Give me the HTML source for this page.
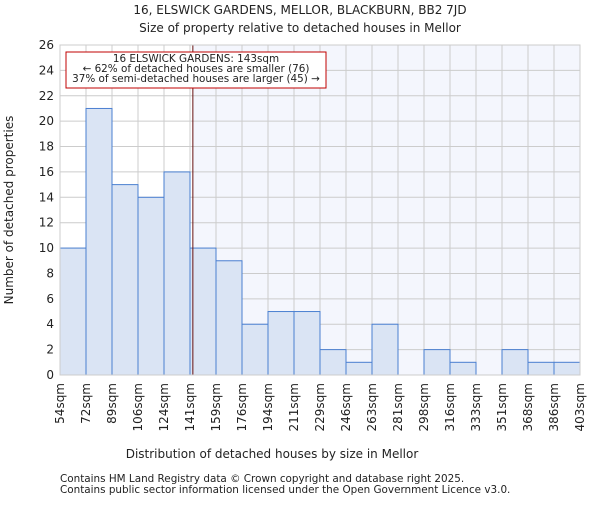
<!DOCTYPE html>
<html><head><meta charset="utf-8"><style>
body{margin:0;background:#fff}
svg text{font-family:"DejaVu Sans","Liberation Sans",sans-serif;fill:#222}
</style></head><body>
<svg width="600" height="500">
<text x="300" y="14" text-anchor="middle" font-size="12">16, ELSWICK GARDENS, MELLOR, BLACKBURN, BB2 7JD</text>
<text x="300" y="32" text-anchor="middle" font-size="12">Size of property relative to detached houses in Mellor</text>
<g id="plot"></g>
<text x="272" y="458" text-anchor="middle" font-size="12">Distribution of detached houses by size in Mellor</text>
<text transform="translate(13,210) rotate(-90)" text-anchor="middle" font-size="12">Number of detached properties</text>
<text x="60" y="482" font-size="10.4">Contains HM Land Registry data © Crown copyright and database right 2025.</text>
<text x="60" y="493" font-size="10.4">Contains public sector information licensed under the Open Government Licence v3.0.</text>
</svg>
<script>
const binLabels=["54sqm","72sqm","89sqm","106sqm","124sqm","141sqm","159sqm","176sqm","194sqm","211sqm","229sqm","246sqm","263sqm","281sqm","298sqm","316sqm","333sqm","351sqm","368sqm","386sqm","403sqm"];
const counts=[10,21,15,14,16,10,9,4,5,5,2,1,4,0,2,1,0,2,1,1];
const yTicks=[0,2,4,6,8,10,12,14,16,18,20,22,24,26];
const markerBin=5.11;
const NS="http://www.w3.org/2000/svg";
const g=document.getElementById('plot');
const L=60,R=580,T=45,B=375,yMax=26;
const bw=(R-L)/counts.length;
const x=i=>L+i*bw, y=v=>B-(v/yMax)*(B-T);
function mk(t,a){const e=document.createElementNS(NS,t);for(const k in a)e.setAttribute(k,a[k]);g.appendChild(e);return e;}
let e=mk('rect',{x:x(markerBin),y:T,width:R-x(markerBin),height:B-T,fill:'#f4f6fd'});

yTicks.forEach(v=>{let l=mk('line',{x1:L,x2:R,y1:y(v),y2:y(v),stroke:'#ccc'});

let t=mk('text',{x:L-6,y:y(v)+4,'text-anchor':'end','font-size':12});t.textContent=v;
});
binLabels.forEach((s,i)=>{let l=mk('line',{x1:x(i),x2:x(i),y1:T,y2:B,stroke:'#ccc'});

let t=mk('text',{transform:`translate(${x(i)+4},${B+8}) rotate(-90)`,'text-anchor':'end','font-size':12});t.textContent=s;
});
counts.forEach((c,i)=>{if(!c)return;let r=mk('rect',{x:x(i),y:y(c),width:bw,height:B-y(c),fill:'#dae4f4',stroke:'#4a7fd0','stroke-width':1});
});
let ml=mk('line',{x1:x(markerBin),x2:x(markerBin),y1:T,y2:B,stroke:'#661010','stroke-width':1});

let ax=mk('rect',{x:L,y:T,width:R-L,height:B-T,fill:'none',stroke:'#ccc'});

let bx=mk('rect',{x:66,y:52,width:260,height:36,fill:'#fff',stroke:'#c00000'});

["16 ELSWICK GARDENS: 143sqm","← 62% of detached houses are smaller (76)","37% of semi-detached houses are larger (45) →"].forEach((s,i)=>{
let t=mk('text',{x:196,y:62+i*10,'text-anchor':'middle','font-size':10.4});t.textContent=s;
});
</script>
</body></html>
